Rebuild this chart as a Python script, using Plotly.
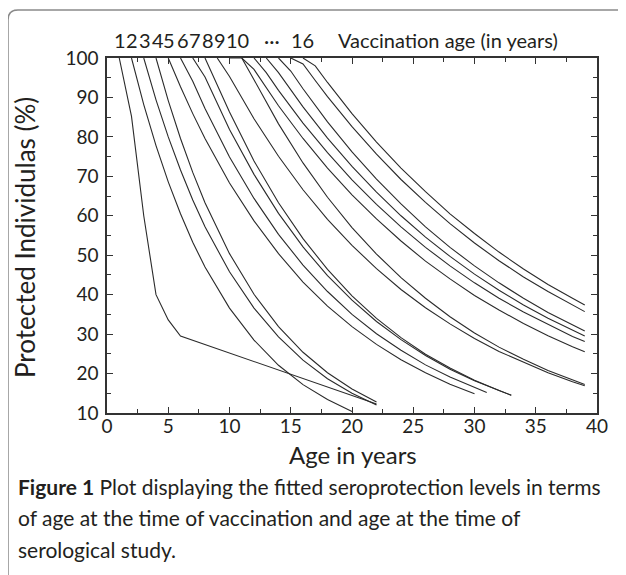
import plotly.graph_objects as go

# ---- data (age in years vs protected %) ----
v1_x = [1, 2, 3, 4, 5, 6, 22]
v1_y = [100, 85.2, 60, 40, 33.6, 29.5, 12.3]

v2_x = [2, 3, 4, 5, 6, 7, 8, 10, 12, 14, 16, 18, 20]
v2_y = [100, 88.2, 77.8, 68.6, 60.5, 53.3, 47.0, 36.6, 28.5, 22.1, 17.2, 13.4, 10.4]

v3_x = [3, 4, 5, 6, 7, 8, 10, 12, 14, 16, 18, 20, 22]
v3_y = [100, 89.4, 80.0, 71.6, 64.0, 57.2, 45.8, 36.6, 29.3, 23.4, 18.7, 15.0, 12.0]

v4_x = [4, 5, 6, 7, 8, 10, 12, 14, 16, 18, 20, 22]
v4_y = [100, 89.2, 79.6, 71.0, 63.3, 50.4, 40.1, 31.9, 25.4, 20.2, 16.1, 12.8]

v5_x = [5, 6, 7, 8, 10, 12, 14, 16, 18, 20, 22, 24, 26, 28, 30]
v5_y = [100, 92.7, 85.9, 79.6, 68.3, 58.7, 50.4, 43.2, 37.1, 31.9, 27.4, 23.5, 20.2, 17.3, 14.9]

v6_x = [6, 7, 8, 10, 12, 14, 16, 18, 20, 22, 24, 26, 28, 30, 31]
v6_y = [100, 94.1, 87.2, 74.9, 64.4, 55.3, 47.5, 40.8, 35.0, 30.1, 25.9, 22.2, 19.1, 16.4, 15.2]

v7_x = [7, 8, 10, 12, 14, 16, 18, 20, 22, 24, 26, 28, 30, 32, 33]
v7_y = [100, 95.2, 81.9, 70.5, 60.6, 52.1, 44.8, 38.6, 33.2, 28.6, 24.6, 21.1, 18.2, 15.6, 14.5]

v8_x = [8, 9, 10, 12, 14, 16, 18, 20, 22, 24, 26, 28, 30, 32, 33]
v8_y = [100, 93.3, 86.3, 73.9, 63.3, 54.2, 46.4, 39.7, 34.0, 29.1, 24.9, 21.4, 18.3, 15.7, 14.5]

v9_x = [9, 10, 12, 14, 16, 18, 20, 22, 24, 26, 28, 30, 32, 34, 36, 38, 39]
v9_y = [100, 95.3, 84.6, 75.1, 66.6, 59.1, 52.5, 46.6, 41.3, 36.7, 32.6, 28.9, 25.6, 22.8, 20.2, 17.9, 16.9]

v10_x = [10, 11, 12, 14, 16, 18, 20, 22, 24, 26, 28, 30, 32, 34, 36, 38, 39]
v10_y = [100, 100, 94.5, 83.3, 73.4, 64.7, 57.0, 50.3, 44.3, 39.1, 34.4, 30.3, 26.7, 23.6, 20.8, 18.3, 17.2]

v11_x = [11, 12, 14, 16, 18, 20, 22, 24, 26, 28, 30, 32, 34, 36, 38, 39]
v11_y = [100, 97.1, 87.9, 79.6, 72.1, 65.3, 59.2, 53.6, 48.5, 44.0, 39.8, 36.1, 32.7, 29.6, 26.8, 25.5]

v12_x = [12, 13, 14, 16, 18, 20, 22, 24, 26, 28, 30, 32, 34, 36, 38, 39]
v12_y = [100, 96.3, 91.8, 83.5, 76.0, 69.1, 62.9, 57.2, 52.0, 47.3, 43.0, 39.1, 35.6, 32.4, 29.4, 28.1]

v13_x = [13, 14, 16, 18, 20, 22, 24, 26, 28, 30, 32, 34, 36, 38, 39]
v13_y = [100, 96.3, 87.6, 79.7, 72.5, 66.0, 60.0, 54.6, 49.7, 45.2, 41.1, 37.4, 34.0, 30.9, 29.5]

v14_x = [14, 15, 16, 18, 20, 22, 24, 26, 28, 30, 32, 34, 36, 38, 39]
v14_y = [100, 96.7, 92.2, 83.8, 76.2, 69.3, 63.0, 57.2, 52.0, 47.3, 43.0, 39.1, 35.5, 32.3, 30.8]

v15_x = [15, 16, 17, 18, 20, 22, 24, 26, 28, 30, 32, 34, 36, 38, 39]
v15_y = [100, 98.5, 94.3, 90.2, 82.6, 75.6, 69.2, 63.4, 58.0, 53.1, 48.6, 44.5, 40.8, 37.3, 35.7]

v16_x = [16, 17, 18, 19, 20, 22, 24, 26, 28, 30, 32, 34, 36, 38, 39]
v16_y = [100, 98, 93.8, 89.8, 85.9, 78.7, 72.1, 66.1, 60.5, 55.5, 50.8, 46.5, 42.6, 39.1, 37.4]

top_labels = ["1", "2", "3", "4", "5", "6", "7", "8", "9", "10", "\u00b7\u00b7\u00b7", "16"]
top_label_pos = [1.04, 2.0, 3.07, 4.13, 5.1, 6.18, 7.16, 8.22, 9.2, 10.67, 13.5, 15.97]
top_title = "Vaccination age (in years)"

x_title = "Age in years"
y_title = "Protected Individulas (%)"
cap_bold = "Figure 1"
cap_lines = [
    " Plot displaying the fitted seroprotection levels in terms",
    "of age at the time of vaccination and age at the time of",
    "serological study.",
]

series = [
    (v1_x, v1_y), (v2_x, v2_y), (v3_x, v3_y), (v4_x, v4_y),
    (v5_x, v5_y), (v6_x, v6_y), (v7_x, v7_y), (v8_x, v8_y),
    (v9_x, v9_y), (v10_x, v10_y), (v11_x, v11_y), (v12_x, v12_y),
    (v13_x, v13_y), (v14_x, v14_y), (v15_x, v15_y), (v16_x, v16_y),
]

FONT = "Lato"
INK = "#231f20"

fig = go.Figure()
for i, (xs, ys) in enumerate(series):
    fig.add_trace(go.Scatter(x=xs, y=ys, mode="lines", name=str(i + 1),
                             line=dict(color="#2a2a2a", width=1.1),
                             showlegend=False, hoverinfo="skip"))

axis_common = dict(showline=True, linecolor="#333333", linewidth=1.5,
                   mirror="allticks", ticks="inside", ticklen=6, tickwidth=1.3,
                   tickcolor="#333333", showgrid=False, zeroline=False,
                   tickfont=dict(family=FONT, size=19, color=INK))

fig.update_xaxes(range=[0, 40], dtick=5, tick0=0, ticklabelstandoff=-5,
                 minor=dict(dtick=2.5, ticks="inside", ticklen=4, tickwidth=1.1,
                            tickcolor="#333333", showgrid=False),
                 **axis_common)
fig.update_yaxes(range=[10, 100], dtick=10, tick0=0, ticklabelstandoff=3,
                 minor=dict(dtick=5, ticks="inside", ticklen=4, tickwidth=1.1,
                            tickcolor="#333333", showgrid=False),
                 **axis_common)

# page is offset by the 8px body margin; geometry given in page pixels
OFF = 8
W, H = 618, 567
L, T = 107 - OFF, 58 - OFF
R = W - (597 - OFF)
B = H - (413 - OFF)
PW, PH = W - L - R, H - T - B


def px(X):
    return (X - OFF - L) / PW


def py(Y):
    return (H - B - (Y - OFF)) / PH


ann = []
for lab, xp in zip(top_labels, top_label_pos):
    ann.append(dict(x=xp, xref="x", y=py(40), yref="paper", text=lab,
                    showarrow=False, xanchor="center", yanchor="middle",
                    font=dict(family=FONT, size=20, color=INK)))
ann.append(dict(x=px(336), xref="paper", y=py(40), yref="paper", text=top_title,
                showarrow=False, xanchor="left", yanchor="middle",
                font=dict(family=FONT, size=20, color=INK)))
ann.append(dict(x=px(353), xref="paper", y=py(454), yref="paper", text=x_title,
                showarrow=False, xanchor="center", yanchor="middle",
                font=dict(family=FONT, size=24, color=INK)))
ann.append(dict(x=px(25), xref="paper", y=py(238), yref="paper", text=y_title,
                showarrow=False, xanchor="center", yanchor="middle", textangle=-90,
                font=dict(family=FONT, size=26, color=INK)))
cap_y = [486, 517, 549]
cap_text = ["<b>" + cap_bold + "</b>" + cap_lines[0], cap_lines[1], cap_lines[2]]
for t, yy in zip(cap_text, cap_y):
    ann.append(dict(x=px(16), xref="paper", y=py(yy), yref="paper", text=t,
                    showarrow=False, xanchor="left", yanchor="middle",
                    font=dict(family=FONT, size=21, color=INK)))

bx0, by0, bx1, by1 = px(8), py(10), px(660), py(600)
rx, ry = 10 / PW, 10 / PH
path = (f"M {bx0},{by1} L {bx0},{by0 - ry} Q {bx0},{by0} {bx0 + rx},{by0} "
        f"L {bx1},{by0}")

fig.update_layout(
    width=W, height=H,
    margin=dict(l=L, r=R, t=T, b=B),
    paper_bgcolor="white", plot_bgcolor="white",
    annotations=ann,
    shapes=[dict(type="path", xref="paper", yref="paper", path=path,
                 line=dict(color="#8a8a8a", width=1.5), layer="below")],
)

fig.write_html("out.html")
